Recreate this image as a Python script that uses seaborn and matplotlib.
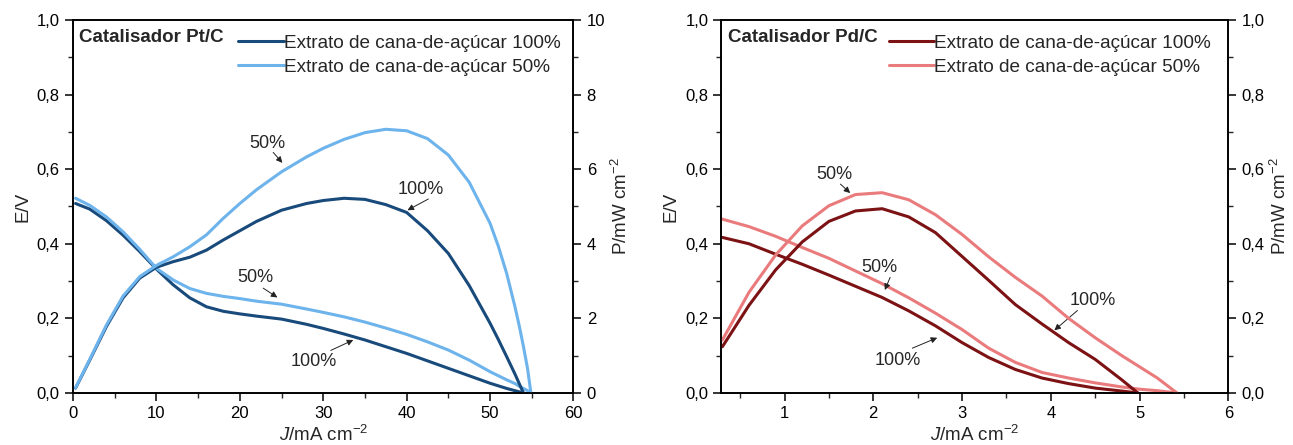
import numpy as np
import pandas as pd
import matplotlib
matplotlib.use("Agg")
import matplotlib.pyplot as plt
import seaborn as sns
from matplotlib.ticker import MultipleLocator, FuncFormatter

# Pt/C panel: J in mA cm-2, E in V, P in mW cm-2
j_pt100 = [0.3, 2, 4, 6, 8, 10, 12, 14, 16, 18, 20, 22, 25, 28, 30, 32.5, 35, 37.5,
           40, 42.5, 45, 47.5, 50, 51, 52, 53, 54]
e_pt100 = [0.508, 0.493, 0.462, 0.423, 0.379, 0.332, 0.290, 0.255, 0.231, 0.219, 0.212,
           0.206, 0.198, 0.184, 0.173, 0.158, 0.142, 0.124, 0.106, 0.086, 0.066, 0.046,
           0.026, 0.019, 0.012, 0.006, 0.0]
p_pt100 = [0.13, 0.88, 1.78, 2.55, 3.08, 3.37, 3.52, 3.64, 3.83, 4.10, 4.35, 4.60, 4.90,
           5.08, 5.16, 5.22, 5.19, 5.05, 4.84, 4.35, 3.74, 2.88, 1.87, 1.43, 0.97, 0.50, 0.0]

j_pt50 = [0.3, 2, 4, 6, 8, 10, 12, 14, 16, 18, 20, 22, 25, 28, 30, 32.5, 35, 37.5,
          40, 42.5, 45, 47.5, 50, 51, 52, 53, 53.5, 54, 54.5, 54.9]
e_pt50 = [0.522, 0.503, 0.472, 0.432, 0.385, 0.334, 0.303, 0.280, 0.267, 0.259, 0.253,
          0.246, 0.238, 0.225, 0.216, 0.204, 0.190, 0.174, 0.157, 0.137, 0.115, 0.088,
          0.057, 0.046, 0.035, 0.025, 0.018, 0.012, 0.006, 0.0]
p_pt50 = [0.14, 0.90, 1.82, 2.60, 3.12, 3.42, 3.65, 3.92, 4.24, 4.68, 5.08, 5.45, 5.93,
          6.33, 6.56, 6.80, 6.98, 7.07, 7.03, 6.82, 6.38, 5.65, 4.55, 3.93, 3.20, 2.30,
          1.80, 1.25, 0.65, 0.0]

# Pd/C panel
j_pd100 = [0.3, 0.6, 0.9, 1.2, 1.5, 1.8, 2.1, 2.4, 2.7, 3.0, 3.3, 3.6, 3.9, 4.2, 4.5,
           4.8, 4.98]
e_pd100 = [0.417, 0.400, 0.372, 0.345, 0.316, 0.286, 0.256, 0.220, 0.180, 0.135, 0.095,
           0.063, 0.040, 0.025, 0.013, 0.005, 0.0]
p_pd100 = [0.124, 0.235, 0.330, 0.405, 0.460, 0.488, 0.494, 0.472, 0.430, 0.366, 0.302,
           0.237, 0.185, 0.135, 0.090, 0.035, 0.0]

j_pd50 = [0.3, 0.6, 0.9, 1.2, 1.5, 1.8, 2.1, 2.4, 2.7, 3.0, 3.3, 3.6, 3.9, 4.2, 4.5,
          4.8, 5.0, 5.2, 5.42]
e_pd50 = [0.466, 0.446, 0.420, 0.390, 0.361, 0.327, 0.293, 0.255, 0.214, 0.170, 0.120,
          0.082, 0.055, 0.040, 0.027, 0.016, 0.010, 0.006, 0.0]
p_pd50 = [0.142, 0.270, 0.370, 0.448, 0.502, 0.532, 0.537, 0.518, 0.478, 0.425, 0.365,
          0.310, 0.260, 0.200, 0.148, 0.100, 0.070, 0.040, 0.0]

labels = ["Extrato de cana-de-açúcar 100%", "Extrato de cana-de-açúcar 50%"]

sns.set_style("ticks")
plt.rcParams["font.family"] = ["Liberation Sans", "DejaVu Sans"]
plt.rcParams["mathtext.fontset"] = "custom"
plt.rcParams["mathtext.rm"] = "Liberation Sans"
plt.rcParams["mathtext.it"] = "Liberation Sans:italic"

fig = plt.figure(figsize=(12.93, 4.45), dpi=100)
ax1 = fig.add_axes([0.0565, 0.117, 0.387, 0.838])
ax2 = fig.add_axes([0.558, 0.117, 0.392, 0.838])

comma = FuncFormatter(lambda v, p: f"{v:.1f}".replace(".", ","))
integer = FuncFormatter(lambda v, p: f"{v:.0f}")


def style(ax, tw, xmaj, xmin, pmaj, pmin, pfmt):
    for a in (ax, tw):
        for s in a.spines.values():
            s.set_visible(True)
            s.set_linewidth(1.2)
            s.set_color("black")
    ax.set_ylim(0, 1.0)
    ax.yaxis.set_major_locator(MultipleLocator(0.2))
    ax.yaxis.set_minor_locator(MultipleLocator(0.1))
    ax.yaxis.set_major_formatter(comma)
    ax.xaxis.set_major_locator(MultipleLocator(xmaj))
    ax.xaxis.set_minor_locator(MultipleLocator(xmin))
    tw.yaxis.set_major_locator(MultipleLocator(pmaj))
    tw.yaxis.set_minor_locator(MultipleLocator(pmin))
    tw.yaxis.set_major_formatter(pfmt)
    for a in (ax, tw):
        a.tick_params(which="major", direction="out", length=6, width=1.1,
                      labelsize=12, colors="black")
        a.tick_params(which="minor", direction="out", length=3.5, width=1.0)
    ax.tick_params(axis="y", which="both", left=True, right=False)
    ax.tick_params(axis="x", which="both", bottom=True, top=False)
    tw.tick_params(axis="y", which="both", right=True, left=False)
    ax.set_ylabel("E/V", fontsize=13.5)
    ax.set_xlabel(r"$J$/mA cm$^{-2}$", fontsize=13.5, labelpad=3)
    tw.set_ylabel(r"P/mW cm$^{-2}$", fontsize=13.5)


def panel(ax, title, curves, colors, xlim, pmax, xmaj, xmin, pmaj, pmin, pfmt, notes):
    tw = ax.twinx()
    for (j, e, p), c, lab in zip(curves, colors, labels):
        sns.lineplot(x=j, y=e, ax=ax, color=c, lw=2.2, label=lab, sort=False)
        sns.lineplot(x=j, y=p, ax=tw, color=c, lw=2.2, legend=False, sort=False)
    ax.set_xlim(*xlim)
    tw.set_ylim(0, pmax)
    style(ax, tw, xmaj, xmin, pmaj, pmin, pfmt)
    ax.legend(loc="upper left", bbox_to_anchor=(0.33, 0.962), frameon=False,
              fontsize=13.7, handlelength=2.4, handletextpad=0.0, borderaxespad=0,
              borderpad=0, labelspacing=0.36)
    ax.text(0.012, 0.952, title, transform=ax.transAxes, fontsize=13.5,
            fontweight="bold", va="center", ha="left")
    for txt, tx, ty, tail, tip in notes:
        ax.text(tx, ty, txt, fontsize=13, ha="center", va="center")
        ax.annotate("", xy=tip, xytext=tail,
                    arrowprops=dict(arrowstyle="-|>", color="#222222", lw=0.7,
                                    mutation_scale=9, shrinkA=0, shrinkB=0))
    return tw


notes_pt = [
    ("50%", 23.3, 0.67, (24.0, 0.645), (25.1, 0.617)),
    ("100%", 41.7, 0.545, (42.6, 0.52), (40.1, 0.49)),
    ("50%", 21.9, 0.31, (22.8, 0.281), (24.5, 0.256)),
    ("100%", 28.9, 0.083, (30.9, 0.114), (33.6, 0.142)),
]
notes_pd = [
    ("50%", 1.56, 0.587, (1.63, 0.56), (1.74, 0.536)),
    ("50%", 2.07, 0.337, (2.19, 0.31), (2.13, 0.276)),
    ("100%", 4.47, 0.248, (4.30, 0.221), (4.04, 0.168)),
    ("100%", 2.28, 0.087, (2.44, 0.12), (2.72, 0.148)),
]

panel(ax1, "Catalisador Pt/C",
      [(j_pt100, e_pt100, p_pt100), (j_pt50, e_pt50, p_pt50)],
      ["#184a7b", "#6db3ec"], (0, 60), 10, 10, 5, 2, 1, integer, notes_pt)
panel(ax2, "Catalisador Pd/C",
      [(j_pd100, e_pd100, p_pd100), (j_pd50, e_pd50, p_pd50)],
      ["#7c1214", "#ea7b7d"], (0.29, 6), 1.0, 1, 0.5, 0.2, 0.1, comma, notes_pd)

fig.savefig("out.png", dpi=100)
